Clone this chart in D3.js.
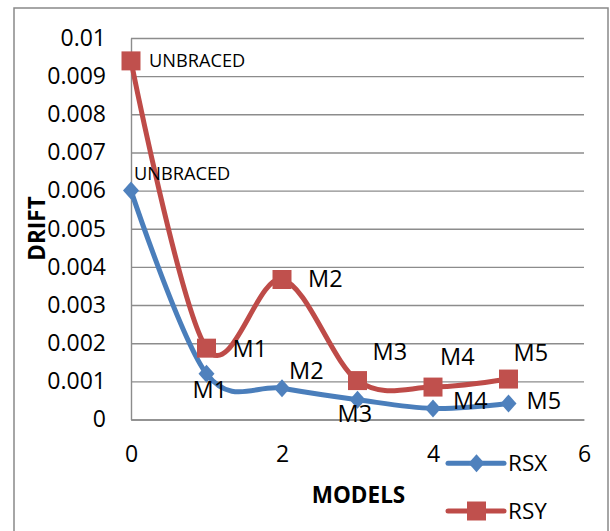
<!DOCTYPE html>
<html>
<head>
<meta charset="utf-8">
<script src="https://cdn.jsdelivr.net/npm/d3@7"></script>
<style>
  html, body { margin: 0; padding: 0; background: #fff; }
  svg { display: block; font-family: "Open Sans", "DejaVu Sans", sans-serif; }
</style>
</head>
<body>
<svg id="chart" width="610" height="531"></svg>
<script>
// Storey drift per model
const models = [0, 1, 2, 3, 4, 5];
const modelLabels = ["UNBRACED", "M1", "M2", "M3", "M4", "M5"];
const rsx = [0.0060, 0.00120, 0.00082, 0.00052, 0.00029, 0.00042];
const rsy = [0.0094, 0.00187, 0.00367, 0.00102, 0.00085, 0.00106];

const xTicks = [0, 2, 4, 6];
const yTicks = [0, 0.001, 0.002, 0.003, 0.004, 0.005, 0.006, 0.007, 0.008, 0.009, 0.01];
const yTickLabels = ["0", "0.001", "0.002", "0.003", "0.004", "0.005", "0.006", "0.007", "0.008", "0.009", "0.01"];

// data label placement: [dx, dy] from the marker to the label's left baseline
const rsxLabelOffsets = [[3, -11], [-14, 24], [7, -9], [-20, 22], [20, 1], [18, 6]];
const rsyLabelOffsets = [[18, 6], [26, 9], [26, 8], [15, -21], [7, -22], [5, -18]];

const svg = d3.select("#chart");
const plot = { left: 131, right: 584, top: 38, bottom: 419.5 };
const gridColor = "#8c8c8c";

const x = d3.scaleLinear().domain([0, 6]).range([plot.left, plot.right]);
const y = d3.scaleLinear().domain([0, 0.01]).range([plot.bottom, plot.top]);

// chart frame
svg.append("rect")
  .attr("x", 14).attr("y", 8)
  .attr("width", 594).attr("height", 560)
  .attr("fill", "#fff")
  .attr("stroke", "#898989").attr("stroke-width", 1.5);

// y axis with horizontal gridlines
const yAxis = svg.append("g")
  .attr("transform", `translate(${plot.left},0)`)
  .call(d3.axisLeft(y)
    .tickValues(yTicks)
    .tickFormat((d, i) => yTickLabels[i])
    .tickSize(-(plot.right - plot.left))
    .tickSizeOuter(0)
    .tickPadding(25));
yAxis.select(".domain").attr("stroke", gridColor).attr("stroke-width", 1.4);
yAxis.selectAll(".tick line").attr("stroke", gridColor).attr("stroke-width", 1.4);
yAxis.selectAll(".tick text")
  .attr("font-size", 23).attr("fill", "#000")
  .attr("font-family", "'Open Sans', sans-serif");

// x axis
const xAxis = svg.append("g")
  .attr("transform", `translate(0,${plot.bottom})`)
  .call(d3.axisBottom(x)
    .tickValues(xTicks)
    .tickFormat(d3.format("d"))
    .tickSize(0)
    .tickSizeOuter(0)
    .tickPadding(26));
xAxis.select(".domain").attr("stroke", gridColor).attr("stroke-width", 1.4);
xAxis.selectAll(".tick text")
  .attr("font-size", 23).attr("fill", "#000")
  .attr("font-family", "'Open Sans', sans-serif");

// axis titles
svg.append("text")
  .attr("transform", "translate(45,228.5) rotate(-90)")
  .attr("text-anchor", "middle")
  .attr("font-size", 22.5).attr("font-weight", "bold")
  .text("DRIFT");
svg.append("text")
  .attr("x", (plot.left + plot.right) / 2 + 1).attr("y", 502.5)
  .attr("text-anchor", "middle")
  .attr("font-size", 22.5).attr("font-weight", "bold")
  .text("MODELS");

// marker shapes
const diamond = {
  draw(ctx, size) {
    const hw = 8, hh = 9;
    ctx.moveTo(0, -hh); ctx.lineTo(hw, 0); ctx.lineTo(0, hh); ctx.lineTo(-hw, 0); ctx.closePath();
  }
};
const series = [
  { name: "RSX", values: rsx, line: "#4a7ebb", fill: "#4f81bd",
    symbol: d3.symbol().type(diamond), offsets: rsxLabelOffsets },
  { name: "RSY", values: rsy, line: "#be4b48", fill: "#c0504d",
    symbol: d3.symbol().type(d3.symbolSquare).size(19 * 19), offsets: rsyLabelOffsets }
];

const line = d3.line()
  .x((d, i) => x(models[i]))
  .y(d => y(d))
  .curve(d3.curveCardinal.tension(0));

series.forEach(s => {
  const g = svg.append("g");
  g.append("path")
    .attr("d", line(s.values))
    .attr("fill", "none")
    .attr("stroke", s.line)
    .attr("stroke-width", 5)
    .attr("stroke-linejoin", "round")
    .attr("stroke-linecap", "round");
  g.selectAll("path.marker")
    .data(s.values)
    .join("path")
    .attr("class", "marker")
    .attr("transform", (d, i) => `translate(${x(models[i])},${y(d)})`)
    .attr("d", s.symbol())
    .attr("fill", s.fill);
});

// data labels
series.forEach(s => {
  svg.append("g").selectAll("text")
    .data(s.values)
    .join("text")
    .attr("x", (d, i) => x(models[i]) + s.offsets[i][0])
    .attr("y", (d, i) => y(d) + s.offsets[i][1])
    .attr("font-size", (d, i) => i === 0 ? 18.2 : 23.5)
    .attr("fill", "#000")
    .text((d, i) => modelLabels[i]);
});

// legend
const legend = svg.append("g");
const legendRows = [463.3, 511];
series.forEach((s, k) => {
  const ly = legendRows[k];
  legend.append("line")
    .attr("x1", 448).attr("x2", 504)
    .attr("y1", ly).attr("y2", ly)
    .attr("stroke", s.line).attr("stroke-width", 5)
    .attr("stroke-linecap", "round");
  legend.append("path")
    .attr("transform", `translate(476.5,${ly})`)
    .attr("d", s.symbol())
    .attr("fill", s.fill);
  legend.append("text")
    .attr("x", 508).attr("y", ly + 8)
    .attr("font-size", 22.5)
    .text(s.name);
});
</script>
</body>
</html>
